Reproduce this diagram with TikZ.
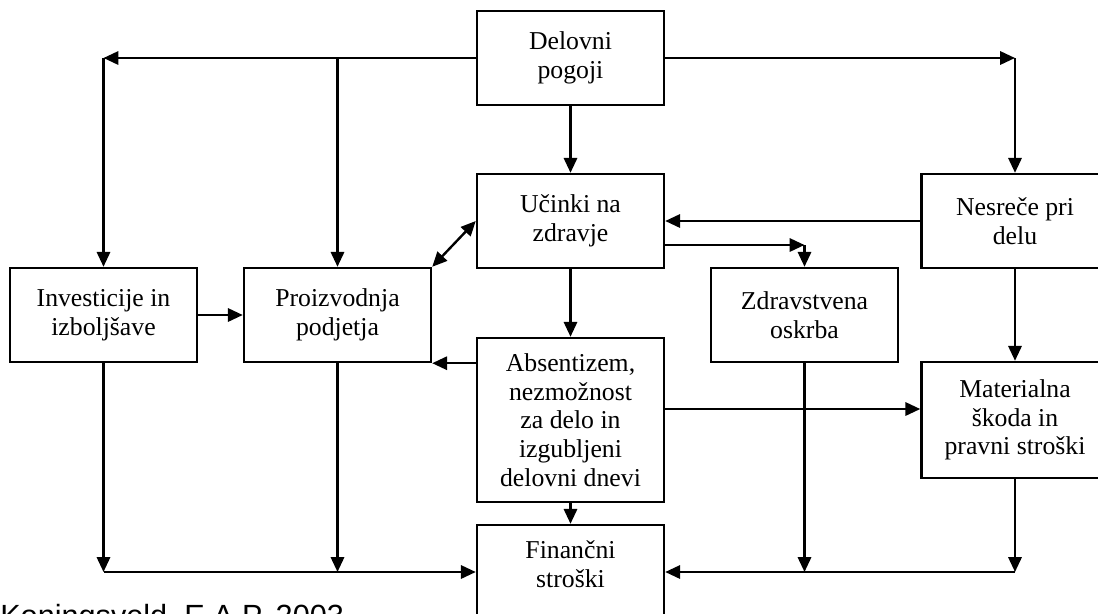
\documentclass[tikz,border=0pt]{standalone}
\usepackage{fontspec}
\setmainfont{Liberation Serif}
\newfontfamily\citefont{Liberation Sans}
\usetikzlibrary{arrows.meta,positioning}

\tikzset{
    box/.style={draw,line width=1.7pt,minimum width=4.675cm,minimum height=2.35cm,align=center,inner sep=0pt,font=\fontsize{18.3}{20.4}\selectfont},
    link/.style={-{Triangle[length=0.37cm,width=0.33cm]},line width=1.7pt},
    twoway/.style={{Triangle[length=0.37cm,width=0.33cm]}-{Triangle[length=0.37cm,width=0.33cm]},line width=1.7pt}
}

\begin{document}
\begin{tikzpicture}[x=0.025cm,y=-0.025cm]
        \clip (0,0) rectangle (1098,613);

        % Boxes
        \node[box] (delovni) at (570.5,58) {Delovni\\pogoji};
        \node[box] (ucinki) at (570.5,221) {Učinki na\\zdravje};
        \node[box] (nesrece) at (1015,221) {Nesreče pri\\delu};
        \node[box] (investicije) at (103.5,315) {Investicije in\\izboljšave};
        \node[box] (proizvodnja) at (337.5,315) {Proizvodnja\\podjetja};
        \node[box] (zdravstvena) at (804.5,315) {Zdravstvena\\oskrba};
        \node[box,minimum height=4.1cm] (absentizem) at (570.5,420) {Absentizem,\\nezmožnost\\za delo in\\izgubljeni\\delovni dnevi};
        \node[box,minimum height=2.9cm] (materialna) at (1015,420) {Materialna\\škoda in\\pravni stroški};
        \node[box,text depth=0.4cm] (financni) at (570.5,572) {Finančni\\stroški};

        % Source
        \node[anchor=base west,inner sep=0pt,font=\citefont\fontsize{21.8}{24}\selectfont] (vir) at (0,626) {Koningsveld, E.A.P. 2003};

        % Corner points
        \coordinate (ltop) at (103.5,58);
        \coordinate (ptop) at (337.5,58);
        \coordinate (rtop) at (1015,58);
        \coordinate (zcorner) at (804.5,245);
        \coordinate (aright) at (0,409);
        \coordinate (ibot) at (103.5,572);
        \coordinate (pbot) at (337.5,572);
        \coordinate (zbot) at (804.5,572);
        \coordinate (mbot) at (1015,572);

        % Arcs from the top box
        \draw[link] (delovni) -- (ltop);
        \draw[link] (ltop) -- (investicije);
        \draw[link] (ptop) -- (proizvodnja);
        \draw[link] (delovni) -- (rtop);
        \draw[link] (rtop) -- (nesrece);
        \draw[link] (delovni) -- (ucinki);

        % Arcs in the middle
        \draw[link] (nesrece) -- (ucinki);
        \draw[link] (ucinki.east |- zcorner) -- (zcorner);
        \draw[link] (zcorner) -- (zdravstvena);
        \draw[twoway] (proizvodnja.north east) -- (ucinki.west);
        \draw[link] (investicije) -- (proizvodnja);
        \draw[link] (ucinki) -- (absentizem);
        \draw[link] (absentizem.west |- proizvodnja.south east) -- (proizvodnja.south east);
        \draw[link] (absentizem.east |- aright) -- (materialna.west |- aright);
        \draw[link] (nesrece) -- (materialna);
        \draw[link] (absentizem) -- (financni);

        % Arcs to the costs
        \draw[link] (investicije) -- (ibot);
        \draw[link] (proizvodnja) -- (pbot);
        \draw[link] (ibot) -- (financni);
        \draw[link] (zdravstvena) -- (zbot);
        \draw[link] (materialna) -- (mbot);
        \draw[link] (mbot) -- (financni);
\end{tikzpicture}
\end{document}
